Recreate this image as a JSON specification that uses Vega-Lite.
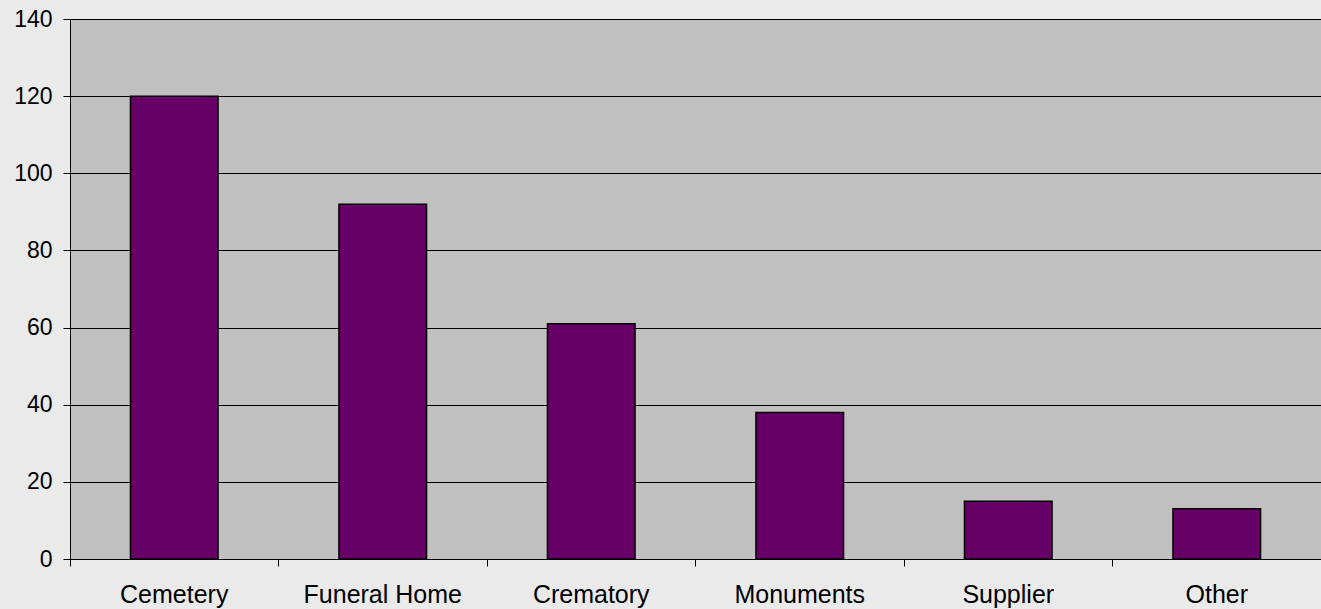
{
  "$schema": "https://vega.github.io/schema/vega-lite/v6.json",
  "width": 1251,
  "height": 540,
  "autosize": {"type": "none"},
  "padding": {"left": 70, "top": 19, "right": 0, "bottom": 50},
  "background": "#eaeaea",
  "data": {
    "values": [
      {"category": "Cemetery", "value": 120},
      {"category": "Funeral Home", "value": 92},
      {"category": "Crematory", "value": 61},
      {"category": "Monuments", "value": 38},
      {"category": "Supplier", "value": 15},
      {"category": "Other", "value": 13}
    ]
  },
  "config": {
    "view": {"fill": "#c0c0c0", "stroke": "#808080", "strokeWidth": 1},
    "font": "Liberation Sans"
  },
  "mark": {"type": "bar", "fill": "#660066", "stroke": "#000000", "strokeWidth": 1.5, "width": {"band": 0.42}},
  "encoding": {
    "x": {
      "field": "category",
      "type": "nominal",
      "sort": null,
      "scale": {"paddingInner": 0, "paddingOuter": 0},
      "axis": {
        "title": null,
        "labelAngle": 0,
        "labelFontSize": 25,
        "labelColor": "#000000",
        "labelPadding": 16,
        "labelFont": "Liberation Sans",
        "bandPosition": 0,
        "ticks": true,
        "tickSize": 7,
        "tickColor": "#000000",
        "domainColor": "#000000",
        "grid": false
      }
    },
    "y": {
      "field": "value",
      "type": "quantitative",
      "scale": {"domain": [0, 140], "nice": false},
      "axis": {
        "title": null,
        "values": [0, 20, 40, 60, 80, 100, 120, 140],
        "labelFontSize": 23,
        "labelColor": "#000000",
        "labelPadding": 11,
        "labelFont": "Liberation Sans",
        "tickSize": 7,
        "tickColor": "#000000",
        "domainColor": "#000000",
        "grid": true,
        "gridColor": "#000000",
        "gridWidth": 1,
        "gridOpacity": 1
      }
    }
  }
}
